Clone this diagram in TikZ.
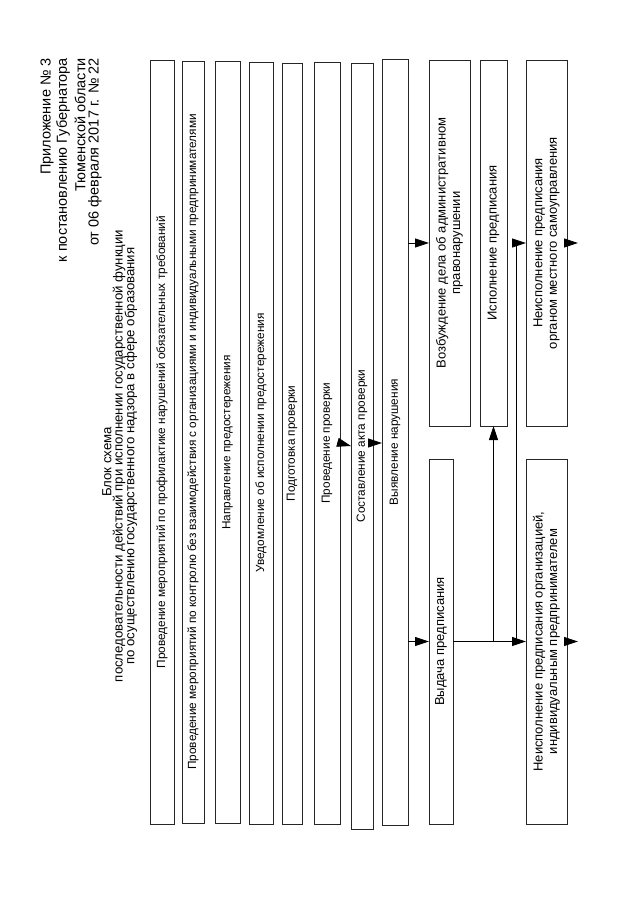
\documentclass[tikz,border=0pt]{standalone}
\usepackage{fontspec}
\setmainfont{Liberation Sans}
\usetikzlibrary{arrows.meta}
\begin{document}
\begin{tikzpicture}[x=1pt,y=-1pt,
  box/.style={draw=black!85, line width=0.8pt, inner sep=0pt, outer sep=0pt},
  lbl/.style={rotate=90, font=\fontsize{11.8}{13}\selectfont, align=center, inner sep=0pt},
  rlbl/.style={rotate=90, font=\fontsize{13}{14.5}\selectfont, align=center, inner sep=0pt},
  hdr/.style={rotate=90, font=\fontsize{14.5}{16}\selectfont, inner sep=0pt, anchor=east},
  ttl/.style={rotate=90, font=\fontsize{13.2}{12}\selectfont, inner sep=0pt},
  arr/.style={-{Triangle[length=14pt,width=9pt]}, line width=0.8pt}]
\useasboundingbox (0,0) rectangle (640,905);
\fill[white] (0,0) rectangle (640,905);

% header
\node[hdr] (h1) at (47,58) {Приложение № 3};
\node[hdr] (h2) at (63,58) {к постановлению Губернатора};
\node[hdr] (h3) at (80,58) {Тюменской области};
\node[hdr] (h4) at (95,58) {от 06 февраля 2017 г. № 22};

% title
\node[ttl] (ttl1) at (107,462) {Блок схема};
\node[ttl] (ttl2) at (119,456) {последовательности действий при исполнении государственной функции};
\node[ttl] (ttl3) at (131,456) {по осуществлению государственного надзора в сфере образования};

% left column boxes
\node[box, minimum width=24pt, minimum height=764pt] (b1) at (162,442) {};
\node[box, minimum width=22pt, minimum height=762pt] (b2) at (193,442) {};
\node[box, minimum width=25pt, minimum height=762pt] (b3) at (227.5,442.5) {};
\node[box, minimum width=24pt, minimum height=762pt] (b4) at (261,443) {};
\node[box, minimum width=20pt, minimum height=761pt] (b5) at (292,443.5) {};
\node[box, minimum width=26pt, minimum height=762pt] (b6) at (327,443) {};
\node[box, minimum width=22pt, minimum height=766pt] (b7) at (362,446) {};
\node[box, minimum width=26pt, minimum height=766pt] (b8) at (395,442) {};

\node[lbl] (t1) at (b1) {Проведение мероприятий по профилактике нарушений обязательных требований};
\node[lbl] (t2) at (b2) {Проведение мероприятий по контролю без взаимодействия с организациями и индивидуальными предпринимателями};
\node[lbl] (t3) at (b3) {Направление предостережения};
\node[lbl] (t4) at (b4) {Уведомление об исполнении предостережения};
\node[lbl] (t5) at (b5) {Подготовка проверки};
\node[lbl] (t6) at (b6) {Проведение проверки};
\node[lbl] (t7) at (b7) {Составление акта проверки};
\node[lbl] (t8) at (b8) {Выявление нарушения};

% right boxes
\node[box, minimum width=41pt, minimum height=366pt] (v) at (449.5,243) {};
\node[box, minimum width=27pt, minimum height=366pt] (isp) at (493.5,243) {};
\node[box, minimum width=41pt, minimum height=366pt] (nu) at (546.5,243) {};
\node[box, minimum width=24pt, minimum height=365pt] (vyd) at (441,641.5) {};
\node[box, minimum width=41pt, minimum height=365pt] (nl) at (546.5,641.5) {};

\node[rlbl] (tv) at (v) {Возбуждение дела об административном\\правонарушении};
\node[rlbl] (tisp) at (isp) {Исполнение предписания};
\node[rlbl] (tnu) at (nu) {Неисполнение предписания\\органом местного самоуправления};
\node[rlbl] (tvyd) at (vyd) {Выдача предписания};
\node[rlbl] (tnl) at (nl) {Неисполнение предписания организацией,\\индивидуальным предпринимателем};

% connectors
\draw[arr] (b6.east) -- (b7.west);
\draw[arr] (b7.east |- b6.east) -- (b8.west |- b6.east);
\draw[arr] (b8.east |- v.west) -- (v.west);
\draw[arr] (b8.east |- vyd.west) -- (vyd.west);
\draw[arr] (vyd.east) -- (nl.west);
\draw[arr] (vyd.east -| isp.south) -- (isp.south);
\coordinate (j2) at (516,641.5);
\draw[arr] (j2) -- (j2 |- nu.west) -- (nu.west);
\coordinate (s1) at (578,243);
\coordinate (s2) at (578,641.5);
\draw[arr] (nu.east) -- (s1);
\draw[arr] (nl.east) -- (s2);
\end{tikzpicture}
\end{document}
